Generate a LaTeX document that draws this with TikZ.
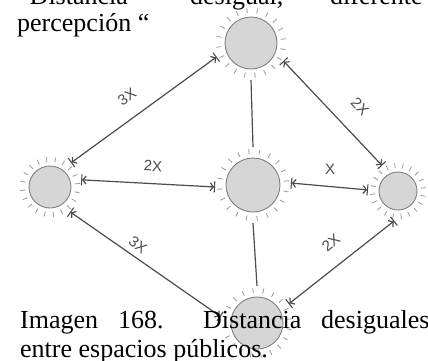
\documentclass[tikz,border=0pt]{standalone}
\usepackage{fontspec}
\setmainfont{Liberation Serif}
\newfontfamily\handfont{Liberation Sans}
\usetikzlibrary{arrows.meta}
\begin{document}
\begin{tikzpicture}[x=1pt,y=-1pt,
  sun/.style={circle, draw=black!50, line width=0.9pt, fill=black!16, inner sep=0pt, outer sep=11pt},
  link/.style={draw=black!70, line width=1.2pt},
  ticked/.style={link, {Bar[width=11pt,line width=1.1pt]Straight Barb[length=3pt,width=8pt]}-{Straight Barb[length=3pt,width=8pt]Bar[width=11pt,line width=1.1pt]}},
  lbl/.style={font=\handfont\fontsize{15pt}{15pt}\selectfont, text=black!70, inner sep=0pt},
  word/.style={anchor=base west, inner sep=0pt, font=\fontsize{26pt}{29pt}\selectfont},
  ray/.style={draw=black!40, line width=0.8pt}
]
\useasboundingbox (0,0) rectangle (428,360);
\clip (0,0) rectangle (428,360);
\fill[white] (0,0) rectangle (428,360);

% circles
\node[sun, minimum size=42pt] (L) at (50,187) {};
\node[sun, minimum size=52pt] (T) at (251,43) {};
\node[sun, minimum size=54pt] (C) at (253,185) {};
\node[sun, minimum size=38pt] (R) at (398,191) {};
\node[sun, minimum size=52pt] (B) at (257,323) {};

% rays
\foreach \n/\r in {L/21,T/26,C/27,R/19,B/26}{
  \foreach \a in {0,18,...,342}{
    \draw[ray] (\n.center) ++(\a+7:\r pt+4pt) -- ++(\a+7:5pt);
  }
}

% connectors
\draw[ticked] (L.49) -- (T.202);
\draw[ticked] (T.-29) -- (R.122);
\draw[ticked] (L.13) -- (C.183);
\draw[ticked] (C.3) -- (R.178);
\draw[ticked] (L.-51) -- (B.170);
\draw[ticked] (B.31) -- (R.263);
\draw[link] (T.south) -- (C.north);
\draw[link] (C.south) -- (B.north);

% labels
\node[lbl, rotate=35] (l1) at (127,97) {3X};
\node[lbl, rotate=-3] (l2) at (153,166) {2X};
\node[lbl, rotate=-37] (l3) at (138,245) {3X};
\node[lbl, rotate=-47] (l4) at (360,107) {2X};
\node[lbl] (l5) at (330,169) {X};
\node[lbl, rotate=40] (l6) at (331,243) {2X};

% text
\node[word] (t1) at (18,4.5) {“Distancia};
\node[word] (t2) at (190,4.5) {desigual,};
\node[word] (t3) at (330,4.5) {diferente};
\node[word] (t4) at (17,31.5) {percepción “};
\node[word] (c1) at (20,328) {Imagen};
\node[word] (c2) at (118,328) {168.};
\node[word] (c3) at (203,328) {Distancia};
\node[word] (c4) at (321,328) {desiguales};
\node[word] (c5) at (20,357) {entre espacios públicos.};
\end{tikzpicture}
\end{document}
